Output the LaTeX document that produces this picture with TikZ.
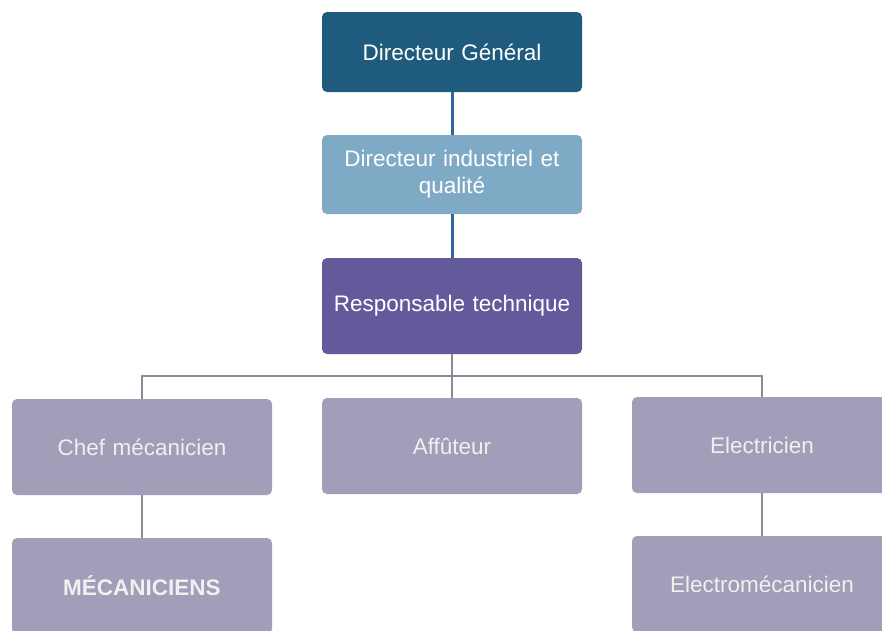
\documentclass[tikz,border=0pt]{standalone}
\usepackage{fontspec}
\setmainfont{Liberation Sans}
\usetikzlibrary{positioning}

\definecolor{dgblue}{HTML}{1F5B7C}
\definecolor{diblue}{HTML}{7EAAC6}
\definecolor{rtpurple}{HTML}{625A9B}
\definecolor{staffgrey}{HTML}{A09EB8}
\definecolor{linkblue}{HTML}{2E679A}
\definecolor{linkgrey}{HTML}{8C8A98}

\tikzset{
    poste/.style={rounded corners=5pt, minimum width=260pt, text width=250pt,
        align=center, font=\fontsize{22.5pt}{27pt}\selectfont, text=white, inner sep=0pt},
    haut/.style={line width=3pt, linkblue},
    bas/.style={line width=1.5pt, linkgrey}
}

\begin{document}
\begin{tikzpicture}[x=1pt,y=-1pt]
            \useasboundingbox (0,0) rectangle (882,630);
            \fill[white] (0,0) rectangle (882,630);
            \clip (0,0) rectangle (882,630);

            \node[poste, fill=dgblue, minimum height=80pt] (dg) at (452,52) {Directeur Général};
            \node[poste, fill=diblue, minimum height=79pt] (di) at (452,174.5) {Directeur industriel et\\qualité};
            \node[poste, fill=rtpurple, minimum height=96pt] (rt) at (452,306) {Responsable technique};

            \node[poste, fill=staffgrey, minimum height=96pt, text=white!94!black] (chef) at (142,447) {Chef mécanicien};
            \node[poste, fill=staffgrey, minimum height=96pt, text=white!94!black] (aff) at (452,446) {Affûteur};
            \node[poste, fill=staffgrey, minimum height=96pt, text=white!94!black] (elec) at (762,445) {Electricien};

            \node[poste, fill=staffgrey, minimum height=96pt, text=white!94!black] (meca) at (142,586) {\textbf{MÉCANICIENS}};
            \node[poste, fill=staffgrey, minimum height=96pt, text=white!94!black] (elm) at (762,584) {Electromécanicien};

            \coordinate (bus) at (452,376);

            \draw[haut] (dg) -- (di);
            \draw[haut] (di) -- (rt);

            \draw[bas] (rt) -- (aff);
            \draw[bas] (chef.north) |- (bus) -| (elec.north);
            \draw[bas] (chef) -- (meca);
            \draw[bas] (elec) -- (elm);

        \end{tikzpicture}
\end{document}
